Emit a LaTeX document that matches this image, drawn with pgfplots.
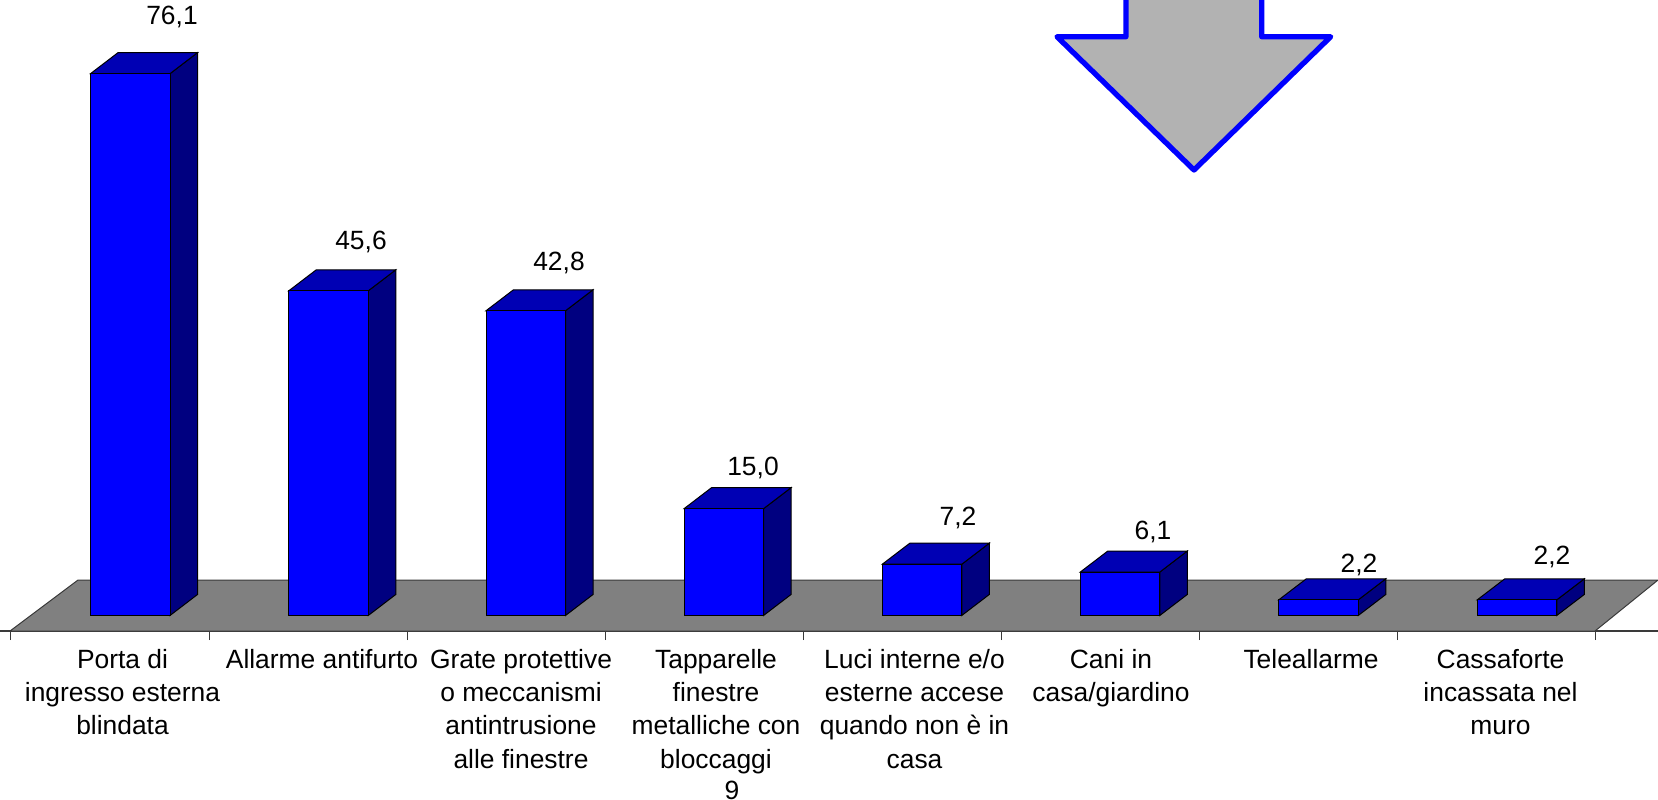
\documentclass[border=0pt]{standalone}
\usepackage{pgfplots}
\usepackage{fontspec}
\setmainfont{Liberation Sans}
\pgfplotsset{compat=1.18}
\definecolor{barfront}{HTML}{0000FF}
\definecolor{barside}{HTML}{000080}
\definecolor{bartop}{HTML}{0000B4}
\definecolor{floorc}{HTML}{808080}
\definecolor{arrowc}{HTML}{B2B2B2}
\definecolor{linec}{HTML}{3A3A3A}
\begin{document}
\begin{tikzpicture}[x=0.5pt,y=0.5pt]
\useasboundingbox (0,-168) rectangle (1658,631);
\begin{axis}[
  at={(0,0)},anchor=south west,
  scale only axis,width=829pt,height=315.5pt,
  xmin=0,xmax=1658,ymin=-2.177,ymax=86.447,
  hide y axis,
  axis x line=bottom,
  axis line style={-,draw=linec,line width=0.7pt},
  xtick={122.5,322,521,716,914.5,1111,1311,1500.5},
  xticklabels={
    {Porta di\\ingresso esterna\\blindata},
    {Allarme antifurto},
    {Grate protettive\\o meccanismi\\antintrusione\\alle finestre},
    {Tapparelle\\finestre\\metalliche con\\bloccaggi},
    {Luci interne e/o\\esterne accese\\quando non è in\\casa},
    {Cani in\\casa/giardino},
    {Teleallarme},
    {Cassaforte\\incassata nel\\muro}},
  xticklabel style={align=center,anchor=north,yshift=-5.5pt,
    font=\fontsize{13.2}{16.65}\selectfont},
  major tick length=0pt,
  tick align=outside,
  extra x ticks={10,209,407,605,803,1001,1199,1397.5,1595},
  extra x tick labels={},
  extra x tick style={major tick length=4.5pt,tick style={draw=linec,line width=0.5pt}},
]
% floor
\addplot[fill=floorc,draw=linec,line width=0.5pt] coordinates {(10,-2.177) (78,4.986) (1658,4.986) (1595,-2.177)} -- cycle;

% right faces
\addplot[fill=barside,draw=black,line width=0.5pt] coordinates {(170,0) (197.5,2.95) (197.5,79.05) (170,76.1)} -- cycle;
\addplot[fill=barside,draw=black,line width=0.5pt] coordinates {(368.25,0) (395.75,2.95) (395.75,48.55) (368.25,45.6)} -- cycle;
\addplot[fill=barside,draw=black,line width=0.5pt] coordinates {(565.5,0) (593,2.95) (593,45.75) (565.5,42.8)} -- cycle;
\addplot[fill=barside,draw=black,line width=0.5pt] coordinates {(763.5,0) (791,2.95) (791,17.95) (763.5,15.0)} -- cycle;
\addplot[fill=barside,draw=black,line width=0.5pt] coordinates {(961.75,0) (989.25,2.95) (989.25,10.15) (961.75,7.2)} -- cycle;
\addplot[fill=barside,draw=black,line width=0.5pt] coordinates {(1159.75,0) (1187.25,2.95) (1187.25,9.05) (1159.75,6.1)} -- cycle;
\addplot[fill=barside,draw=black,line width=0.5pt] coordinates {(1358.25,0) (1385.75,2.95) (1385.75,5.15) (1358.25,2.2)} -- cycle;
\addplot[fill=barside,draw=black,line width=0.5pt] coordinates {(1556.75,0) (1584.25,2.95) (1584.25,5.15) (1556.75,2.2)} -- cycle;

% top faces
\addplot[fill=bartop,draw=black,line width=0.5pt] coordinates {(90.5,76.1) (118,79.05) (197.5,79.05) (170,76.1)} -- cycle;
\addplot[fill=bartop,draw=black,line width=0.5pt] coordinates {(288.75,45.6) (316.25,48.55) (395.75,48.55) (368.25,45.6)} -- cycle;
\addplot[fill=bartop,draw=black,line width=0.5pt] coordinates {(486,42.8) (513.5,45.75) (593,45.75) (565.5,42.8)} -- cycle;
\addplot[fill=bartop,draw=black,line width=0.5pt] coordinates {(684,15.0) (711.5,17.95) (791,17.95) (763.5,15.0)} -- cycle;
\addplot[fill=bartop,draw=black,line width=0.5pt] coordinates {(882.25,7.2) (909.75,10.15) (989.25,10.15) (961.75,7.2)} -- cycle;
\addplot[fill=bartop,draw=black,line width=0.5pt] coordinates {(1080.25,6.1) (1107.75,9.05) (1187.25,9.05) (1159.75,6.1)} -- cycle;
\addplot[fill=bartop,draw=black,line width=0.5pt] coordinates {(1278.75,2.2) (1306.25,5.15) (1385.75,5.15) (1358.25,2.2)} -- cycle;
\addplot[fill=bartop,draw=black,line width=0.5pt] coordinates {(1477.25,2.2) (1504.75,5.15) (1584.25,5.15) (1556.75,2.2)} -- cycle;

% front faces: the data
\addplot[ybar,bar width=79.5,bar shift=0pt,fill=barfront,draw=black,line width=0.5pt] coordinates {
  (130.25,76.1) (328.5,45.6) (525.75,42.8) (723.75,15.0)
  (922,7.2) (1120,6.1) (1318.5,2.2) (1517,2.2)};

% arrow
\addplot[fill=arrowc,draw=barfront,line width=2.65pt,line join=round] coordinates {
  (1126,88) (1126,81.29) (1057,81.29) (1194,62.57) (1330.7,81.29) (1261.7,81.29) (1261.7,88)};

% value labels
\begin{scope}[every node/.style={font=\fontsize{13.2}{16}\selectfont,inner sep=0pt}]
\node at (axis cs:172,84.05) {76,1};
\node at (axis cs:361,52.5) {45,6};
\node at (axis cs:559,49.5) {42,8};
\node at (axis cs:753,20.7) {15,0};
\node at (axis cs:958,13.7) {7,2};
\node at (axis cs:1153,11.7) {6,1};
\node at (axis cs:1359,7.1) {2,2};
\node at (axis cs:1552,8.2) {2,2};
\end{scope}
\end{axis}
\node[font=\fontsize{13.2}{16}\selectfont,inner sep=0pt] at (732,-159) {9};
\end{tikzpicture}
\end{document}
